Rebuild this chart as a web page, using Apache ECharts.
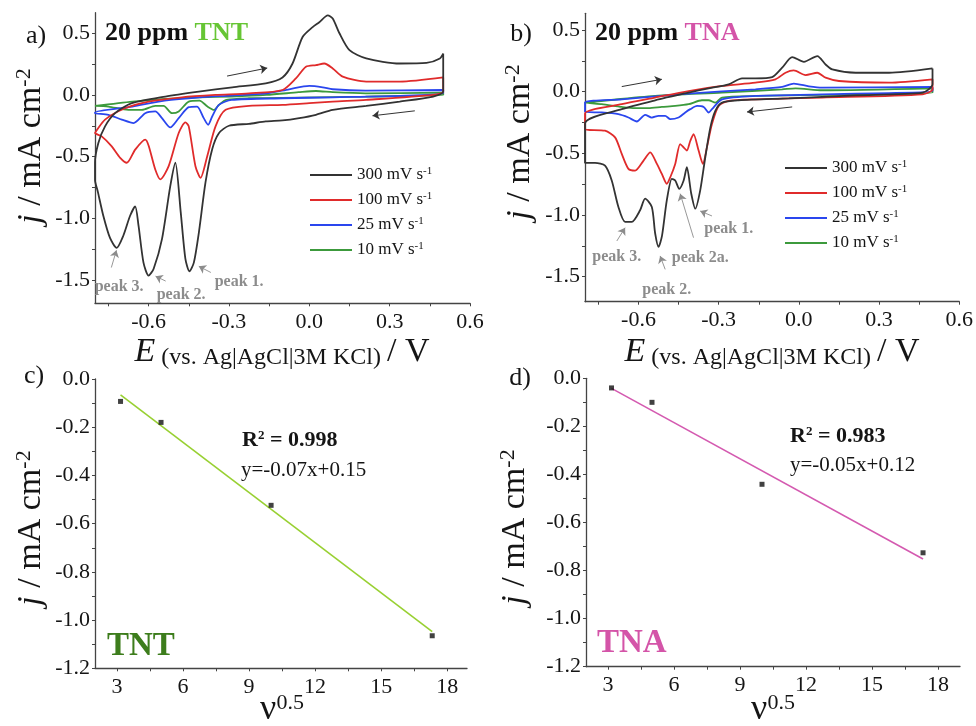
<!DOCTYPE html>
<html><head><meta charset="utf-8">
<script src="https://cdn.jsdelivr.net/npm/echarts@6/dist/echarts.min.js"></script>
<style>html,body{margin:0;padding:0;background:#fff}#c{width:976px;height:726px}</style>
</head><body><div id="c"></div>
<script>
// ---------------- DATA ----------------
const scanRates = ['300 mV s-1', '100 mV s-1', '25 mV s-1', '10 mV s-1'];

// Panel a (TNT) cyclic voltammograms: [E / V, j / mA cm-2]
const a300 = [[0.5,0.336],[0.5,0.027],[0.4625,-0.013],[0.3375,-0.054],[0.2125,-0.089],[0.0875,-0.121],[0.025,-0.161],[-0.0375,-0.188],[-0.1,-0.207],[-0.1625,-0.215],[-0.225,-0.234],[-0.3,-0.25],[-0.3375,-0.31],[-0.3625,-0.44],[-0.3875,-0.71],[-0.4125,-1.12],[-0.431,-1.36],[-0.4475,-1.43],[-0.4625,-1.33],[-0.48,-0.95],[-0.5,-0.55],[-0.519,-0.74],[-0.55,-1.17],[-0.581,-1.41],[-0.6,-1.465],[-0.619,-1.36],[-0.6375,-1.06],[-0.65,-0.905],[-0.669,-0.98],[-0.694,-1.14],[-0.719,-1.24],[-0.744,-1.16],[-0.769,-0.98],[-0.79,-0.78],[-0.8,-0.69],[-0.8,-0.55],[-0.7875,-0.39],[-0.7625,-0.255],[-0.725,-0.148],[-0.6625,-0.067],[-0.5375,-0.013],[-0.4125,0.027],[-0.2875,0.062],[-0.1625,0.094],[-0.1,0.142],[-0.0625,0.255],[-0.025,0.47],[0.0125,0.55],[0.0375,0.59],[0.069,0.645],[0.0875,0.62],[0.1125,0.5],[0.15,0.363],[0.2125,0.296],[0.3375,0.255],[0.4375,0.26],[0.4875,0.296],[0.5,0.336]];
const a100 = [[0.5,0.142],[0.5,0.027],[0.4625,0.0],[0.2125,-0.04],[0.0875,-0.054],[0.0,-0.067],[-0.1,-0.081],[-0.225,-0.089],[-0.3125,-0.121],[-0.35,-0.255],[-0.381,-0.497],[-0.406,-0.672],[-0.425,-0.578],[-0.45,-0.255],[-0.4625,-0.223],[-0.4875,-0.309],[-0.525,-0.578],[-0.556,-0.685],[-0.575,-0.605],[-0.6,-0.41],[-0.6125,-0.363],[-0.65,-0.444],[-0.681,-0.55],[-0.706,-0.51],[-0.7375,-0.417],[-0.775,-0.336],[-0.8,-0.309],[-0.8,-0.304],[-0.7625,-0.2],[-0.6875,-0.108],[-0.6,-0.054],[-0.475,-0.019],[-0.35,0.0],[-0.225,0.013],[-0.1,0.04],[-0.05,0.134],[-0.0125,0.228],[0.025,0.242],[0.056,0.255],[0.0875,0.215],[0.125,0.148],[0.2125,0.108],[0.3375,0.108],[0.5,0.142]];
const a25 = [[0.5,0.04],[0.5,0.013],[0.34,-0.008],[0.0875,-0.019],[-0.1,-0.027],[-0.29,-0.04],[-0.3375,-0.081],[-0.3625,-0.175],[-0.3775,-0.242],[-0.394,-0.188],[-0.419,-0.094],[-0.45,-0.099],[-0.4875,-0.188],[-0.519,-0.263],[-0.55,-0.188],[-0.575,-0.134],[-0.6125,-0.148],[-0.656,-0.228],[-0.7,-0.2],[-0.75,-0.161],[-0.8,-0.148],[-0.8,-0.142],[-0.66,-0.094],[-0.54,-0.046],[-0.41,-0.019],[-0.29,-0.005],[-0.16,0.013],[-0.075,0.046],[0.0,0.073],[0.05,0.062],[0.0875,0.046],[0.21,0.035],[0.5,0.04]];
const a10 = [[0.5,0.019],[0.5,0.0],[0.21,-0.013],[-0.04,-0.022],[-0.225,-0.027],[-0.31,-0.04],[-0.3375,-0.081],[-0.356,-0.121],[-0.38,-0.094],[-0.41,-0.046],[-0.45,-0.054],[-0.4875,-0.134],[-0.5125,-0.148],[-0.544,-0.089],[-0.575,-0.089],[-0.625,-0.121],[-0.675,-0.121],[-0.75,-0.094],[-0.8,-0.089],[-0.8,-0.094],[-0.66,-0.054],[-0.54,-0.032],[-0.41,-0.019],[-0.29,-0.013],[-0.16,0.0],[-0.04,0.022],[0.025,0.032],[0.0875,0.022],[0.21,0.013],[0.5,0.019]];

// Panel b (TNA) cyclic voltammograms
const b300 = [[0.5,0.188],[0.5,0.059],[0.4625,-0.008],[0.2125,-0.03],[-0.0375,-0.054],[-0.225,-0.07],[-0.2875,-0.089],[-0.3125,-0.156],[-0.331,-0.29],[-0.35,-0.532],[-0.369,-0.8],[-0.3875,-0.949],[-0.4025,-0.828],[-0.419,-0.613],[-0.431,-0.72],[-0.4475,-0.788],[-0.4625,-0.72],[-0.475,-0.707],[-0.494,-0.882],[-0.512,-1.17],[-0.525,-1.258],[-0.5375,-1.15],[-0.55,-0.935],[-0.575,-0.868],[-0.594,-0.962],[-0.625,-1.056],[-0.65,-1.056],[-0.675,-0.935],[-0.7,-0.72],[-0.725,-0.6],[-0.7625,-0.578],[-0.8,-0.578],[-0.8,-0.258],[-0.6625,-0.142],[-0.5375,-0.07],[-0.4125,-0.008],[-0.3375,0.027],[-0.2625,0.059],[-0.2125,0.108],[-0.1625,0.108],[-0.1,0.118],[-0.0625,0.194],[-0.025,0.28],[0.019,0.242],[0.069,0.288],[0.1,0.22],[0.125,0.18],[0.2125,0.153],[0.3375,0.153],[0.5,0.188]];
const b100 = [[0.5,0.1],[0.5,0.019],[0.4625,-0.022],[0.0875,-0.048],[-0.1625,-0.062],[-0.2625,-0.075],[-0.3,-0.116],[-0.325,-0.263],[-0.344,-0.452],[-0.359,-0.586],[-0.375,-0.478],[-0.394,-0.344],[-0.406,-0.398],[-0.419,-0.478],[-0.431,-0.452],[-0.444,-0.425],[-0.4625,-0.586],[-0.481,-0.694],[-0.494,-0.747],[-0.5125,-0.667],[-0.531,-0.586],[-0.556,-0.492],[-0.581,-0.559],[-0.6125,-0.64],[-0.6375,-0.626],[-0.6625,-0.505],[-0.6875,-0.371],[-0.725,-0.317],[-0.8,-0.304],[-0.8,-0.177],[-0.6625,-0.102],[-0.5375,-0.048],[-0.4125,0.005],[-0.2875,0.046],[-0.1625,0.073],[-0.0875,0.1],[-0.05,0.153],[-0.019,0.172],[0.025,0.134],[0.069,0.153],[0.1,0.113],[0.15,0.086],[0.3375,0.073],[0.5,0.1]];
const b25 = [[0.5,0.038],[0.5,0.005],[0.0875,-0.022],[-0.1625,-0.035],[-0.2875,-0.062],[-0.325,-0.142],[-0.3375,-0.169],[-0.356,-0.124],[-0.381,-0.116],[-0.406,-0.142],[-0.425,-0.169],[-0.45,-0.21],[-0.481,-0.223],[-0.5,-0.196],[-0.525,-0.196],[-0.55,-0.21],[-0.575,-0.188],[-0.606,-0.242],[-0.6375,-0.21],[-0.675,-0.183],[-0.7375,-0.169],[-0.8,-0.164],[-0.8,-0.089],[-0.6625,-0.062],[-0.4125,-0.016],[-0.1625,0.019],[-0.0625,0.038],[-0.019,0.065],[0.0375,0.043],[0.0875,0.032],[0.5,0.038]];
const b10 = [[0.5,0.027],[0.5,-0.008],[0.0875,-0.027],[-0.1625,-0.035],[-0.2875,-0.048],[-0.3125,-0.089],[-0.3375,-0.07],[-0.3625,-0.07],[-0.4125,-0.102],[-0.4625,-0.116],[-0.5125,-0.124],[-0.5625,-0.134],[-0.6125,-0.134],[-0.6625,-0.124],[-0.7375,-0.102],[-0.8,-0.089],[-0.8,-0.085],[-0.5375,-0.035],[-0.2875,-0.008],[-0.0625,0.019],[-0.0125,0.027],[0.0875,0.011],[0.5,0.027]];

// Panels c, d: peak current vs square root of scan rate
const sqrtRate = [3.16, 5.0, 10.0, 17.32];
const tntPeakJ = [-0.093, -0.18, -0.524, -1.065];
const tnaPeakJ = [-0.04, -0.10, -0.441, -0.726];
const fitX = [3.16, 17.32];
const tntFitJ = [-0.066, -1.048];
const tnaFitJ = [-0.042, -0.752];

// Tick labels
const cvXLabels = [-0.6, -0.3, 0.0, 0.3, 0.6];
const cvXTicks = [-0.75, -0.6, -0.45, -0.3, -0.15, 0.0, 0.15, 0.3, 0.45, 0.6];
const cvYLabels = [-1.5, -1.0, -0.5, 0.0, 0.5];
const cvYTicks = [-1.5, -1.25, -1.0, -0.75, -0.5, -0.25, 0.0, 0.25, 0.5];
const fitXLabels = [3, 6, 9, 12, 15, 18];
const fitXTicks = [3, 4.5, 6, 7.5, 9, 10.5, 12, 13.5, 15, 16.5, 18];
const fitYLabels = [-1.2, -1.0, -0.8, -0.6, -0.4, -0.2, 0.0];
const fitYTicks = [-1.2, -1.1, -1.0, -0.9, -0.8, -0.7, -0.6, -0.5, -0.4, -0.3, -0.2, -0.1, 0.0];

// Annotations (data coordinates)
const aPeakLabels = [['peak 3.', -0.71, -1.557], ['peak 2.', -0.4785, -1.622], ['peak 1.', -0.262, -1.517]];
const aPeakArrows = [[[-0.739, -1.40], [-0.72, -1.26]], [[-0.536, -1.51], [-0.574, -1.47]], [[-0.3675, -1.44], [-0.4125, -1.39]]];
const aScanArrows = [[[-0.307, 0.153], [-0.157, 0.218]], [[0.394, -0.129], [0.236, -0.169]]];
const bPeakLabels = [['peak 1.', -0.2625, -1.113], ['peak 3.', -0.681, -1.34], ['peak 2a.', -0.369, -1.346], ['peak 2.', -0.494, -1.611]];
const bPeakArrows = [[[-0.325, -1.008], [-0.369, -0.968]], [[-0.681, -1.211], [-0.65, -1.103]], [[-0.394, -1.184], [-0.444, -0.827]], [[-0.5, -1.441], [-0.519, -1.332]]];
const bScanArrows = [[[-0.6625, 0.041], [-0.5125, 0.1]], [[-0.025, -0.124], [-0.194, -0.165]]];

// ---------------- STYLE / LAYOUT ----------------
const SERIF = '"Liberation Serif","DejaVu Serif",serif';
const cvColors = { '300 mV s-1': '#333333', '100 mV s-1': '#e02b2b', '25 mV s-1': '#2a46ee', '10 mV s-1': '#3c9a3c' };
const TXT = '#151515';

function fmt1(v) { return Math.abs(v) < 1e-9 ? '0.0' : v.toFixed(1); }

function xAxisDef(gi, min, max, labels, ticks, fmt) {
  return {
    gridIndex: gi, type: 'value', min: min, max: max,
    axisLine: { show: true, onZero: false, lineStyle: { color: '#444', width: 1.3 } },
    axisTick: { show: true, inside: false, length: 3, customValues: ticks, lineStyle: { color: '#444' } },
    axisLabel: { customValues: labels, formatter: fmt, fontFamily: SERIF, fontSize: 22, color: TXT, margin: 8 },
    splitLine: { show: false }
  };
}
function yAxisDef(gi, min, max, labels, ticks, fmt) {
  return {
    gridIndex: gi, type: 'value', min: min, max: max,
    axisLine: { show: true, onZero: false, lineStyle: { color: '#444', width: 1.3 } },
    axisTick: { show: true, inside: false, length: 3, customValues: ticks, lineStyle: { color: '#444' } },
    axisLabel: { customValues: labels, formatter: fmt, fontFamily: SERIF, fontSize: 22, color: TXT, margin: 5 },
    splitLine: { show: false }
  };
}

function cvSeries(name, data, gi) {
  return {
    type: 'line', name: name, data: data, xAxisIndex: gi, yAxisIndex: gi,
    showSymbol: false, symbol: 'none', smooth: 0.25, clip: true,
    lineStyle: { color: cvColors[name], width: 1.8 }, itemStyle: { color: cvColors[name] },
    animation: false, z: 2
  };
}

function annotSeries(gi, peakLabels, peakArrows, scanArrows) {
  const lines = [];
  peakArrows.forEach(p => lines.push([{ coord: p[0], lineStyle: { color: '#8c8c8c', width: 0.9, type: 'solid' } }, { coord: p[1] }]));
  scanArrows.forEach(p => lines.push([{ coord: p[0], lineStyle: { color: '#333', width: 1, type: 'solid' } }, { coord: p[1] }]));
  return {
    type: 'line', name: 'annot' + gi, data: [], xAxisIndex: gi, yAxisIndex: gi, silent: true, animation: false,
    markLine: { silent: true, animation: false, symbol: ['none', 'arrow'], symbolSize: 7, label: { show: false },
      lineStyle: { type: 'solid', width: 1 }, emphasis: { disabled: true }, data: lines },
    markPoint: {
      silent: true, animation: false, symbol: 'circle', symbolSize: 0,
      label: { show: true, position: 'inside', formatter: p => p.name, color: '#8c8c8c', fontWeight: 'bold', fontSize: 16, fontFamily: SERIF },
      data: peakLabels.map(p => ({ name: p[0], coord: [p[1], p[2]] }))
    }
  };
}

function zip(xs, ys) { return xs.map((x, i) => [x, ys[i]]); }

const legendRich = {
  n: { fontFamily: SERIF, fontSize: 17, color: TXT, lineHeight: 18 },
  s: { fontFamily: SERIF, fontSize: 11, color: TXT, verticalAlign: 'top', lineHeight: 11 }
};
function legendFmt(name) { const m = name.match(/^(.*) s-1$/); return '{n|' + m[1] + ' s}{s|-1}'; }
function legendDef(left, top) {
  return {
    data: scanRates, left: left, top: top, orient: 'vertical', icon: 'rect', itemWidth: 42, itemHeight: 2,
    itemGap: 7.5, selectedMode: false, formatter: legendFmt, textStyle: { rich: legendRich, padding: [0, 0, 0, 0] }
  };
}

const bigRich = {
  i: { fontFamily: SERIF, fontStyle: 'italic', fontSize: 34, color: TXT, lineHeight: 36 },
  n: { fontFamily: SERIF, fontSize: 34, color: TXT, lineHeight: 36 },
  m: { fontFamily: SERIF, fontSize: 24, color: TXT, verticalAlign: 'bottom', lineHeight: 30 },
  s: { fontFamily: SERIF, fontSize: 22, color: TXT, verticalAlign: 'top', lineHeight: 22 }
};
function txt(x, y, text, extra) {
  return Object.assign({ type: 'text', x: x, y: y, silent: true, z: 10,
    style: Object.assign({ text: text, align: 'center', verticalAlign: 'middle', fontFamily: SERIF, fontSize: 26, fill: TXT }, extra || {}) });
}
const xTitle = '{i|E}{m| (vs. Ag|AgCl|3M KCl) }{n|/ V}';
const yTitle = '{i|j}{n| / mA cm}{s|-2}';
const nuTitle = '{n|ν}{s|0.5}';
const nuRich = {
  n: { fontFamily: SERIF, fontSize: 36, color: TXT, lineHeight: 36 },
  s: { fontFamily: SERIF, fontSize: 22, color: TXT, verticalAlign: 'top', lineHeight: 22 }
};

const graphics = [
  txt(36, 36, 'a)'), txt(521, 34, 'b)'), txt(34, 376, 'c)'), txt(520, 378, 'd)'),
  txt(105, 33, '{b|20 ppm }{g|TNT}', { align: 'left', rich: { b: { fontFamily: SERIF, fontWeight: 'bold', fontSize: 26, fill: '#111' }, g: { fontFamily: SERIF, fontWeight: 'bold', fontSize: 26, fill: '#66c534' } } }),
  txt(595, 33, '{b|20 ppm }{g|TNA}', { align: 'left', rich: { b: { fontFamily: SERIF, fontWeight: 'bold', fontSize: 26, fill: '#111' }, g: { fontFamily: SERIF, fontWeight: 'bold', fontSize: 26, fill: '#d454a8' } } }),
  txt(282, 352, xTitle, { rich: bigRich }),
  txt(772, 352, xTitle, { rich: bigRich }),
  Object.assign(txt(31, 146, yTitle, { rich: bigRich }), { rotation: Math.PI / 2 }),
  Object.assign(txt(520, 142, yTitle, { rich: bigRich }), { rotation: Math.PI / 2 }),
  Object.assign(txt(31, 528, yTitle, { rich: bigRich }), { rotation: Math.PI / 2 }),
  Object.assign(txt(515, 527, yTitle, { rich: bigRich }), { rotation: Math.PI / 2 }),
  txt(282, 710, nuTitle, { rich: nuRich }),
  txt(773, 710, nuTitle, { rich: nuRich }),
  txt(242, 440, '{b|R}{s|2}{b| = 0.998}', { align: 'left', rich: { b: { fontFamily: SERIF, fontWeight: 'bold', fontSize: 22, fill: TXT, lineHeight: 22 }, s: { fontFamily: SERIF, fontWeight: 'bold', fontSize: 13, fill: TXT, verticalAlign: 'top', lineHeight: 13 } } }),
  txt(241, 470, 'y=-0.07x+0.15', { align: 'left', fontSize: 21 }),
  txt(790, 436, '{b|R}{s|2}{b| = 0.983}', { align: 'left', rich: { b: { fontFamily: SERIF, fontWeight: 'bold', fontSize: 22, fill: TXT, lineHeight: 22 }, s: { fontFamily: SERIF, fontWeight: 'bold', fontSize: 13, fill: TXT, verticalAlign: 'top', lineHeight: 13 } } }),
  txt(790, 465, 'y=-0.05x+0.12', { align: 'left', fontSize: 21 }),
  txt(107, 646, 'TNT', { align: 'left', fontWeight: 'bold', fontSize: 33, fill: '#3d7d1c' }),
  txt(597, 643, 'TNA', { align: 'left', fontWeight: 'bold', fontSize: 33, fill: '#d454a8' })
];

const series = [];
['10 mV s-1', '25 mV s-1', '100 mV s-1', '300 mV s-1'].forEach(n => {
  const map = { '300 mV s-1': [a300, b300], '100 mV s-1': [a100, b100], '25 mV s-1': [a25, b25], '10 mV s-1': [a10, b10] };
  series.push(cvSeries(n, map[n][0], 0));
  series.push(cvSeries(n, map[n][1], 1));
});
series.push(annotSeries(0, aPeakLabels, aPeakArrows, aScanArrows));
series.push(annotSeries(1, bPeakLabels, bPeakArrows, bScanArrows));
series.push({ type: 'line', name: 'TNT fit', data: zip(fitX, tntFitJ), xAxisIndex: 2, yAxisIndex: 2, showSymbol: false, symbol: 'none', lineStyle: { color: '#98d032', width: 1.6 }, animation: false });
series.push({ type: 'scatter', name: 'TNT', data: zip(sqrtRate, tntPeakJ), xAxisIndex: 2, yAxisIndex: 2, symbol: 'rect', symbolSize: 5, itemStyle: { color: '#111' }, animation: false, z: 5 });
series.push({ type: 'line', name: 'TNA fit', data: zip(fitX, tnaFitJ), xAxisIndex: 3, yAxisIndex: 3, showSymbol: false, symbol: 'none', lineStyle: { color: '#d45ab0', width: 1.6 }, animation: false });
series.push({ type: 'scatter', name: 'TNA', data: zip(sqrtRate, tnaPeakJ), xAxisIndex: 3, yAxisIndex: 3, symbol: 'rect', symbolSize: 5, itemStyle: { color: '#111' }, animation: false, z: 5 });

const option = {
  backgroundColor: '#ffffff',
  animation: false,
  grid: [
    { left: 95, top: 12.7, width: 375, height: 290.6 },
    { left: 585, top: 13.3, width: 375, height: 288.4 },
    { left: 95, top: 379, width: 372, height: 289.3 },
    { left: 586, top: 378.3, width: 374, height: 288.4 }
  ],
  xAxis: [
    xAxisDef(0, -0.8, 0.6, cvXLabels, cvXTicks, fmt1),
    xAxisDef(1, -0.8, 0.6, cvXLabels, cvXTicks, fmt1),
    xAxisDef(2, 2, 18.9, fitXLabels, fitXTicks, v => String(v)),
    xAxisDef(3, 2, 19, fitXLabels, fitXTicks, v => String(v))
  ],
  yAxis: [
    yAxisDef(0, -1.69, 0.667, cvYLabels, cvYTicks, fmt1),
    yAxisDef(1, -1.703, 0.635, cvYLabels, cvYTicks, fmt1),
    yAxisDef(2, -1.2, 0, fitYLabels, fitYTicks, fmt1),
    yAxisDef(3, -1.2, 0, fitYLabels, fitYTicks, fmt1)
  ],
  legend: [legendDef(305, 161), legendDef(780, 154)],
  graphic: graphics,
  series: series
};

const chart = echarts.init(document.getElementById('c'), null, { renderer: 'canvas' });
chart.setOption(option);
</script>
</body></html>
